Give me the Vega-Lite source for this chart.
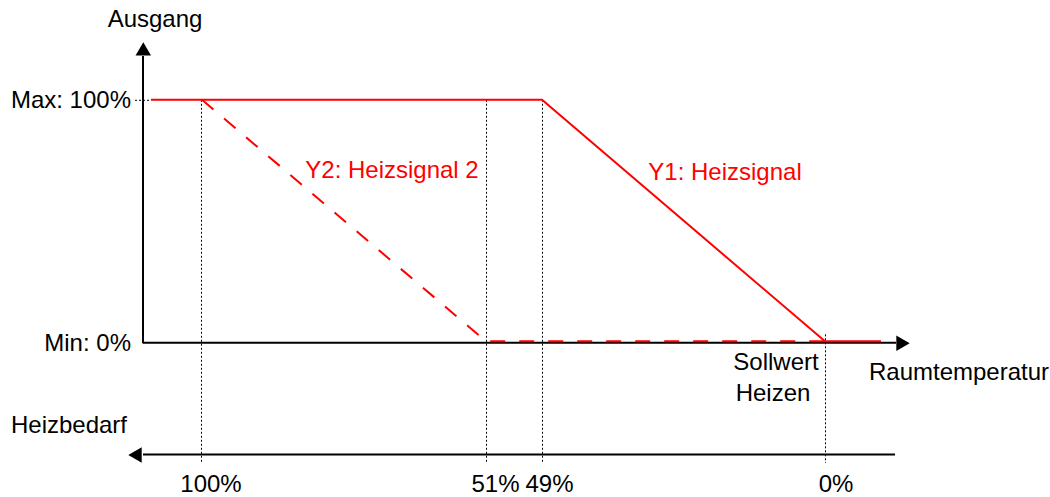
{
  "$schema": "https://vega.github.io/schema/vega-lite/v6.json",
  "width": 1050,
  "height": 497,
  "autosize": {"type": "fit", "contains": "padding"},
  "padding": 0,
  "background": "white",
  "config": {"view": {"stroke": null}},
  "datasets": {
    "axes": [
      {"x": 143, "y": 56, "x2": 143, "y2": 344},
      {"x": 143, "y": 343.5, "x2": 896, "y2": 343.5},
      {"x": 143, "y": 455.5, "x2": 895, "y2": 455.5}
    ],
    "guides": [
      {"x": 135, "y": 100.5, "x2": 151, "y2": 100.5},
      {"x": 201.5, "y": 100, "x2": 201.5, "y2": 464},
      {"x": 486.5, "y": 100, "x2": 486.5, "y2": 464},
      {"x": 542.5, "y": 100, "x2": 542.5, "y2": 464},
      {"x": 825.5, "y": 335, "x2": 825.5, "y2": 464}
    ],
    "y1": [
      {"o": 1, "x": 151, "y": 100},
      {"o": 2, "x": 542, "y": 100},
      {"o": 3, "x": 825, "y": 342},
      {"o": 4, "x": 881, "y": 342}
    ],
    "y2": [
      {"o": 1, "x": 202, "y": 100},
      {"o": 2, "x": 486, "y": 342},
      {"o": 3, "x": 825, "y": 342}
    ],
    "arrows": [
      {"dir": "up", "x": 143.3, "y": 49},
      {"dir": "right", "x": 903, "y": 344},
      {"dir": "left", "x": 135, "y": 456}
    ],
    "labels": [
      {"t": "Ausgang", "x": 155, "y": 20},
      {"t": "Y2: Heizsignal 2", "x": 392, "y": 171},
      {"t": "Y1: Heizsignal", "x": 725, "y": 173},
      {"t": "Sollwert", "x": 776, "y": 364},
      {"t": "Heizen", "x": 773, "y": 395},
      {"t": "Raumtemperatur", "x": 959, "y": 374},
      {"t": "Heizbedarf", "x": 69, "y": 427},
      {"t": "100%", "x": 211, "y": 486},
      {"t": "51%", "x": 495.5, "y": 486},
      {"t": "49%", "x": 549.5, "y": 486},
      {"t": "0%", "x": 836, "y": 486}
    ],
    "ylabels": [
      {"t": "Max: 100%", "x": 131, "y": 101},
      {"t": "Min: 0%", "x": 131, "y": 345}
    ]
  },
  "layer": [
    {
      "data": {"name": "guides"},
      "mark": {"type": "rule", "color": "#000000", "strokeWidth": 1, "strokeDash": [2, 2]},
      "encoding": {
        "x": {"field": "x", "type": "quantitative", "scale": {"domain": [0, 1050], "nice": false, "zero": false}, "axis": null},
        "y": {"field": "y", "type": "quantitative", "scale": {"domain": [0, 497], "reverse": true, "nice": false, "zero": false}, "axis": null},
        "x2": {"field": "x2"},
        "y2": {"field": "y2"}
      }
    },
    {
      "data": {"name": "axes"},
      "mark": {"type": "rule", "color": "#000000", "strokeWidth": 2},
      "encoding": {
        "x": {"field": "x", "type": "quantitative", "scale": {"domain": [0, 1050], "nice": false, "zero": false}, "axis": null},
        "y": {"field": "y", "type": "quantitative", "scale": {"domain": [0, 497], "reverse": true, "nice": false, "zero": false}, "axis": null},
        "x2": {"field": "x2"},
        "y2": {"field": "y2"}
      }
    },
    {
      "data": {"name": "y2"},
      "mark": {"type": "line", "color": "#ff0000", "strokeWidth": 2, "strokeDash": [15, 14]},
      "encoding": {
        "x": {"field": "x", "type": "quantitative", "scale": {"domain": [0, 1050], "nice": false, "zero": false}, "axis": null},
        "y": {"field": "y", "type": "quantitative", "scale": {"domain": [0, 497], "reverse": true, "nice": false, "zero": false}, "axis": null},
        "order": {"field": "o", "type": "quantitative"}
      }
    },
    {
      "data": {"name": "y1"},
      "mark": {"type": "line", "color": "#ff0000", "strokeWidth": 2},
      "encoding": {
        "x": {"field": "x", "type": "quantitative", "scale": {"domain": [0, 1050], "nice": false, "zero": false}, "axis": null},
        "y": {"field": "y", "type": "quantitative", "scale": {"domain": [0, 497], "reverse": true, "nice": false, "zero": false}, "axis": null},
        "order": {"field": "o", "type": "quantitative"}
      }
    },
    {
      "data": {"name": "arrows"},
      "mark": {"type": "point", "filled": true, "color": "#000000", "opacity": 1, "size": 240, "strokeWidth": 0},
      "encoding": {
        "x": {"field": "x", "type": "quantitative", "scale": {"domain": [0, 1050], "nice": false, "zero": false}, "axis": null},
        "y": {"field": "y", "type": "quantitative", "scale": {"domain": [0, 497], "reverse": true, "nice": false, "zero": false}, "axis": null},
        "shape": {"field": "dir", "type": "nominal", "scale": {"domain": ["up", "right", "left"], "range": ["triangle-up", "triangle-right", "triangle-left"]}, "legend": null}
      }
    },
    {
      "data": {"name": "labels"},
      "mark": {"type": "text", "font": "Liberation Sans", "fontSize": 24, "align": "center", "baseline": "middle"},
      "encoding": {
        "x": {"field": "x", "type": "quantitative", "scale": {"domain": [0, 1050], "nice": false, "zero": false}, "axis": null},
        "y": {"field": "y", "type": "quantitative", "scale": {"domain": [0, 497], "reverse": true, "nice": false, "zero": false}, "axis": null},
        "text": {"field": "t"},
        "color": {"field": "t", "type": "nominal", "scale": {"domain": ["Y1: Heizsignal", "Y2: Heizsignal 2", "Ausgang", "Sollwert", "Heizen", "Raumtemperatur", "Heizbedarf", "100%", "51%", "49%", "0%"], "range": ["#ff0000", "#ff0000", "#000000", "#000000", "#000000", "#000000", "#000000", "#000000", "#000000", "#000000", "#000000"]}, "legend": null}
      }
    },
    {
      "data": {"name": "ylabels"},
      "mark": {"type": "text", "font": "Liberation Sans", "fontSize": 24, "align": "right", "baseline": "middle", "color": "#000000"},
      "encoding": {
        "x": {"field": "x", "type": "quantitative", "scale": {"domain": [0, 1050], "nice": false, "zero": false}, "axis": null},
        "y": {"field": "y", "type": "quantitative", "scale": {"domain": [0, 497], "reverse": true, "nice": false, "zero": false}, "axis": null},
        "text": {"field": "t"}
      }
    }
  ]
}
